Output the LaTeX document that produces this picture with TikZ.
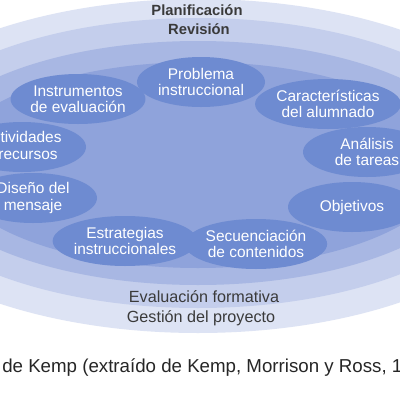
\documentclass[tikz,border=0pt]{standalone}
\usepackage{fontspec}
\setmainfont{Liberation Sans}
\usetikzlibrary{shapes.geometric}
\definecolor{ringA}{HTML}{DDE3F4}
\definecolor{ringB}{HTML}{C4CEEC}
\definecolor{ringC}{HTML}{A8B7E3}
\definecolor{ringD}{HTML}{8FA3DB}
\definecolor{ovalblue}{HTML}{6E8BD1}
\definecolor{inkgray}{HTML}{3A3A3A}
\tikzset{
  oval/.style={ellipse,fill=ovalblue,minimum width=32mm,minimum height=12.5mm,inner sep=0pt,
    text=white,align=center,font=\fontsize{11}{11.5}\selectfont},
  ringlabel/.style={text=inkgray,font=\fontsize{11.5}{12}\selectfont,inner sep=0pt},
  toplabel/.style={text=inkgray,font=\fontsize{10.5}{11}\selectfont\bfseries,inner sep=0pt}
}

\begin{document}
\begin{tikzpicture}[x=0.25mm,y=-0.25mm]
  \useasboundingbox[fill=white] (0,0) rectangle (400,400);
  \coordinate (O) at (198,166);

  % rings
  \fill[ringA] (O) ellipse [x radius=350,y radius=167];
  \fill[ringB] (198,163) ellipse [x radius=315,y radius=145];
  \fill[ringC] (198,163) ellipse [x radius=282,y radius=122];
  \fill[ringD] (198,165) ellipse [x radius=250,y radius=103];

  \node[toplabel] (plan) at (197,10) {Planificación};
  \node[toplabel] (rev) at (199,29) {Revisión};
  \node[ringlabel] (evalf) at (204,297) {Evaluación formativa};
  \node[ringlabel] (gest) at (201,318) {Gestión del proyecto};

  % ovals
  \node[oval] (prob) at (201,82) {Problema\\instruccional};
  \node[oval] (instr) at (78,99) {Instrumentos\\de evaluación};
  \node[oval] (carac) at (328,104) {Características\\del alumnado};
  \node[oval] (activ) at (22,147) {Actividades\\y recursos};
  \node[oval] (anal) at (367,152) {Análisis\\de tareas};
  \node[oval] (disen) at (33,198) {Diseño del\\mensaje};
  \node[oval] (objet) at (352,207) {Objetivos};
  \node[oval] (estrat) at (125,241) {Estrategias\\instruccionales};
  \node[oval] (secuen) at (256,244) {Secuenciación\\de contenidos};

  \node[anchor=west,inner sep=0pt,text=black!85,font=\fontsize{13.3}{14}\selectfont] (cap) at (2,368)
    {de Kemp (extraído de Kemp, Morrison y Ross, 1};
\end{tikzpicture}
\end{document}
